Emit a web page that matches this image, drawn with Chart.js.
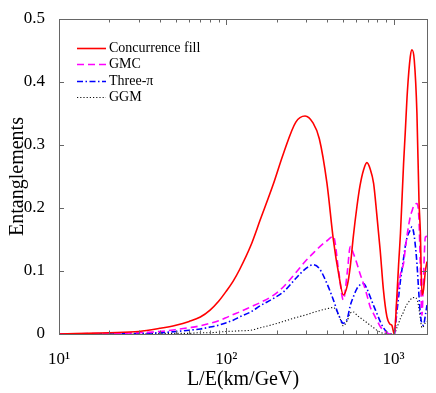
<!DOCTYPE html>
<html>
<head>
<meta charset="utf-8">
<script src="https://cdn.jsdelivr.net/npm/chart.js@4/dist/chart.umd.min.js"></script>
<style>
html,body{margin:0;padding:0;background:#fff;}
#wrap{width:436px;height:393px;}
</style>
</head>
<body>
<div id="wrap"><canvas id="c" width="436" height="393"></canvas></div>
<script>
// L/E values (km/GeV)
const xs = [10,20,30,40,50,60,70,80,90,100,110,120,140,160,190,220,260,296,330,360,400,437,470,501,530,551,575,604,630,661,693,725,760,794,832,870,912,950,977,1010,1047,1072,1100,1148,1175,1210,1259,1288,1330,1380,1420,1445,1479,1510,1550,1585];
const concurrenceFill = [0,0.002,0.004,0.009,0.014,0.02,0.027,0.038,0.052,0.068,0.084,0.102,0.14,0.182,0.236,0.287,0.336,0.346,0.335,0.31,0.239,0.149,0.095,0.062,0.078,0.107,0.155,0.202,0.235,0.26,0.272,0.262,0.239,0.19,0.133,0.07,0.028,0.016,0.014,0.0,0.06,0.11,0.16,0.27,0.32,0.385,0.44,0.451,0.435,0.35,0.21,0.165,0.062,0.07,0.1,0.115];
const gmc = [0,0.001,0.002,0.004,0.007,0.01,0.013,0.017,0.021,0.026,0.031,0.035,0.043,0.05,0.061,0.075,0.097,0.115,0.128,0.138,0.148,0.155,0.1,0.054,0.1,0.139,0.128,0.112,0.096,0.08,0.062,0.043,0.032,0.022,0.012,0.006,0.002,0,0,0,0.05,0.075,0.095,0.112,0.135,0.16,0.186,0.195,0.205,0.207,0.18,0.11,0.03,0.09,0.154,0.155];
const threePi = [0,0,0.001,0.002,0.004,0.006,0.008,0.011,0.014,0.018,0.022,0.027,0.035,0.045,0.056,0.067,0.088,0.103,0.11,0.104,0.08,0.054,0.03,0.017,0.025,0.045,0.059,0.072,0.078,0.08,0.072,0.059,0.045,0.033,0.02,0.01,0.003,0,0,0,0.035,0.059,0.085,0.12,0.139,0.155,0.165,0.17,0.155,0.112,0.06,0.033,0.016,0.014,0.03,0.046];
const ggm = [0,0,0,0.001,0.001,0.001,0.002,0.002,0.003,0.004,0.0045,0.005,0.006,0.01,0.015,0.02,0.026,0.03,0.034,0.037,0.04,0.042,0.03,0.013,0.022,0.033,0.035,0.03,0.026,0.022,0.018,0.014,0.01,0.006,0.003,0.001,0,0,0,0,0.01,0.017,0.025,0.035,0.042,0.048,0.054,0.057,0.058,0.055,0.04,0.025,0.01,0.012,0.018,0.02];
const xMin = 10, xMax = 1585;
const yTicks = [0,0.1,0.2,0.3,0.4,0.5];
const xTickLabels = {10:'10¹',100:'10²',1000:'10³'};
const seriesNames = ['Concurrence fill','GMC','Three-π','GGM'];

const pts = arr => xs.map((x,i)=>({x:x,y:arr[i]}));
const serif = 'Liberation Serif, Times New Roman, serif';

const frameTicks = {
  id:'frameTicks',
  afterDraw(chart){
    const ctx = chart.ctx, a = chart.chartArea;
    const sx = chart.scales.x, sy = chart.scales.y;
    ctx.save();
    ctx.strokeStyle = '#666';
    ctx.lineWidth = 1;
    ctx.strokeRect(Math.round(a.left)+0.5, Math.round(a.top)+0.5, Math.round(a.right-a.left), Math.round(a.bottom-a.top));
    ctx.beginPath();
    sx.ticks.forEach(t=>{
      const v = t.value;
      const e = Math.floor(Math.log10(v)+1e-9);
      const m = v/Math.pow(10,e);
      if (Math.abs(m-Math.round(m))>1e-6) return;
      const px = Math.round(sx.getPixelForValue(v))+0.5;
      const len = Math.abs(m-1)<1e-6 ? 6 : 3.5;
      ctx.moveTo(px,a.bottom); ctx.lineTo(px,a.bottom-len);
      ctx.moveTo(px,a.top); ctx.lineTo(px,a.top+len);
    });
    sy.ticks.forEach(t=>{
      const py = Math.round(sy.getPixelForValue(t.value))+0.5;
      ctx.moveTo(a.left,py); ctx.lineTo(a.left+5,py);
      ctx.moveTo(a.right,py); ctx.lineTo(a.right-5,py);
    });
    ctx.stroke();
    ctx.restore();
  }
};
// legend drawn inside the plot area, from the datasets' own label/colour/dash
const insideLegend = {
  id:'insideLegend',
  afterDraw(chart){
    const ctx = chart.ctx, a = chart.chartArea;
    const x0 = a.left + 18, y0 = a.top + 28.5, rowH = 16.5, lineLen = 29, gap = 3;
    ctx.save();
    ctx.font = '14px ' + serif;
    ctx.textBaseline = 'middle';
    ctx.textAlign = 'left';
    chart.data.datasets.forEach((ds,i)=>{
      const y = Math.round(y0 + i*rowH) + 0.5;
      ctx.strokeStyle = ds.borderColor;
      ctx.lineWidth = ds.borderWidth;
      ctx.setLineDash(ds.borderDash || []);
      ctx.beginPath(); ctx.moveTo(x0,y); ctx.lineTo(x0+lineLen,y); ctx.stroke();
      ctx.setLineDash([]);
      ctx.fillStyle = '#000';
      ctx.fillText(ds.label, x0+lineLen+gap, y);
    });
    ctx.restore();
  }
};

new Chart(document.getElementById('c'), {
  type:'line',
  data:{
    datasets:[
      {label:seriesNames[0], data:pts(concurrenceFill), borderColor:'#ff0000', borderWidth:1.6},
      {label:seriesNames[1], data:pts(gmc), borderColor:'#ff00ff', borderWidth:1.6, borderDash:[7,4]},
      {label:seriesNames[2], data:pts(threePi), borderColor:'#0000ff', borderWidth:1.6, borderDash:[6,2.5,1.5,2.5]},
      {label:seriesNames[3], data:pts(ggm), borderColor:'#111111', borderWidth:1.1, borderDash:[1.2,2]}
    ]
  },
  options:{
    responsive:false,
    animation:false,
    devicePixelRatio:1,
    layout:{padding:{top:19,right:9,left:0,bottom:0}},
    elements:{point:{radius:0}, line:{cubicInterpolationMode:'monotone', fill:false}},
    plugins:{
      legend:{display:false},
      tooltip:{enabled:false}
    },
    scales:{
      x:{
        type:'logarithmic', min:xMin, max:xMax,
        afterFit(s){ s.height = 59; },
        grid:{display:false},
        border:{display:true, color:'#666'},
        ticks:{autoSkip:false, maxRotation:0, padding:7, color:'#000', font:{family:serif, size:17},
          callback:(v)=> xTickLabels[Math.round(v)] && Math.abs(v-Math.round(v))<1e-6 ? xTickLabels[Math.round(v)] : ''},
        title:{display:true, text:'L/E(km/GeV)', color:'#000', font:{family:serif, size:20}, padding:{top:0,bottom:1}}
      },
      y:{
        min:0, max:0.5,
        afterFit(s){ s.width = 59; },
        afterBuildTicks(s){ s.ticks = yTicks.map(v=>({value:v})); },
        grid:{display:false},
        border:{display:true, color:'#666'},
        ticks:{padding:6, color:'#000', font:{family:serif, size:17}},
        title:{display:true, text:'Entanglements', color:'#000', font:{family:serif, size:20}, padding:{top:6,bottom:0}}
      }
    }
  },
  plugins:[frameTicks, insideLegend]
});
</script>
</body>
</html>
